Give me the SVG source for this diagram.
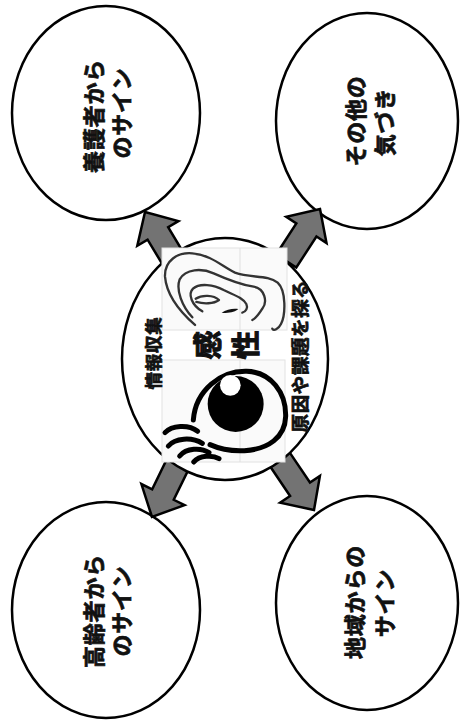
<svg xmlns="http://www.w3.org/2000/svg" width="460" height="720" viewBox="0 0 460 720">
  <style>
    .bubble { fill: #ffffff; stroke: #000000; stroke-width: 2.5; }
    .label { font-family: "Noto Sans CJK JP", "Noto Sans", sans-serif; font-weight: 700; fill: #111111; stroke: #111111; stroke-width: 0.7px; text-anchor: middle; dominant-baseline: central; }
    .outer { font-size: 22px; letter-spacing: 0.8px; }
    .side { font-size: 17.5px; letter-spacing: 0.8px; }
    .key { font-size: 29px; stroke-width: 1px; }
    .arrow { fill: #737373; stroke: #000000; stroke-width: 2.5; stroke-linejoin: miter; }
    .panel { fill: #fafafa; stroke: #e2e2e2; stroke-width: 1; }
    .seam { stroke: #e0e0e0; stroke-width: 1; }
    .ear { fill: none; stroke: #333333; stroke-width: 7; stroke-linecap: round; stroke-linejoin: round; }
    .eye { fill: none; stroke: #000000; stroke-width: 15; stroke-linecap: round; }
  </style>
  <defs>
    <!-- block arrow pointing up, tip at the origin -->
    <polygon id="blockArrow" points="0,0 24,25 12,25 12,62 -12,62 -12,25 -24,25"/>
  </defs>

  <rect width="460" height="720" fill="#ffffff"/>

  <!-- outer nodes -->
  <g id="node-yogosha">
    <ellipse class="bubble" cx="106" cy="113" rx="94" ry="107"/>
    <text class="label outer" transform="translate(92,116) rotate(-90)">養護者から</text>
    <text class="label outer" transform="translate(120,113) rotate(-90)">のサイン</text>
  </g>
  <g id="node-sonota">
    <ellipse class="bubble" cx="367" cy="121" rx="91" ry="108"/>
    <text class="label outer" transform="translate(354,121) rotate(-90)">その他の</text>
    <text class="label outer" transform="translate(383,122) rotate(-90)">気づき</text>
  </g>
  <g id="node-koreisha">
    <ellipse class="bubble" cx="106" cy="610" rx="94" ry="108"/>
    <text class="label outer" transform="translate(92,611) rotate(-90)">高齢者から</text>
    <text class="label outer" transform="translate(120,611) rotate(-90)">のサイン</text>
  </g>
  <g id="node-chiiki">
    <ellipse class="bubble" cx="367" cy="603" rx="91" ry="107"/>
    <text class="label outer" transform="translate(353,602) rotate(-90)">地域からの</text>
    <text class="label outer" transform="translate(383,603) rotate(-90)">サイン</text>
  </g>

  <!-- connectors -->
  <g id="connectors">
    <use href="#blockArrow" class="arrow" transform="translate(145,212) rotate(-31)"/>
    <use href="#blockArrow" class="arrow" transform="translate(320,209) rotate(33)"/>
    <use href="#blockArrow" class="arrow" transform="translate(152,517) rotate(-154)"/>
    <use href="#blockArrow" class="arrow" transform="translate(314,510) rotate(146)"/>
  </g>

  <!-- central node -->
  <g id="node-kansei">
    <ellipse class="bubble" cx="225" cy="359" rx="103" ry="121"/>

    <!-- ear picture -->
    <rect class="panel" x="162" y="248" width="125" height="82"/>
    <line class="seam" x1="240" y1="248" x2="240" y2="330"/>
    <g transform="translate(155,240) scale(0.3333)">
      <path class="ear" d="M120,255 C80,220 35,170 30,110 C28,62 68,36 112,40 C168,45 200,78 240,98 C288,115 338,104 368,128 C394,152 392,225 378,252 C370,268 356,274 352,266"/>
      <path class="ear" d="M112,232 C82,200 62,150 74,118 C92,86 140,84 176,100 C216,118 256,134 296,140 C330,146 338,186 322,206 C312,222 304,234 292,240"/>
      <path class="ear" d="M142,214 C110,196 98,162 114,146 C134,128 176,134 206,150 C238,166 262,172 274,192 C280,204 272,216 262,218"/>
      <path class="ear" d="M122,176 C140,164 176,164 192,180 C176,192 146,192 124,186"/>
      <path d="M200,218 C214,208 236,204 250,207 C242,215 222,221 200,218 Z" fill="#111111"/>
    </g>

    <!-- eye picture -->
    <rect class="panel" x="162" y="360" width="123" height="102"/>
    <line class="seam" x1="240" y1="360" x2="240" y2="462"/>
    <g transform="translate(155,350) scale(0.3333)">
      <path class="eye" d="M115,210 C122,120 198,62 275,64 C348,66 394,128 392,200 C390,262 340,298 268,302 C228,304 192,296 165,284"/>
      <circle cx="242" cy="162" r="84" fill="#000000"/>
      <circle cx="226" cy="106" r="31" fill="#ffffff"/>
      <path class="eye" d="M30,248 C50,226 100,222 128,244"/>
      <path class="eye" d="M40,288 C60,264 110,260 142,280"/>
      <path class="eye" d="M74,318 C94,294 138,292 162,308"/>
      <path class="eye" d="M116,336 C134,316 172,314 192,326"/>
    </g>

    <text class="label side" transform="translate(152,353) rotate(-90)">情報収集</text>
    <text class="label key" transform="translate(206,345) rotate(-90)">感</text>
    <text class="label key" transform="translate(244,345) rotate(-90)">性</text>
    <text class="label side" transform="translate(299,356) rotate(-90)" style="font-size:18.5px;letter-spacing:0.6px">原因や課題を探る</text>
  </g>
</svg>
